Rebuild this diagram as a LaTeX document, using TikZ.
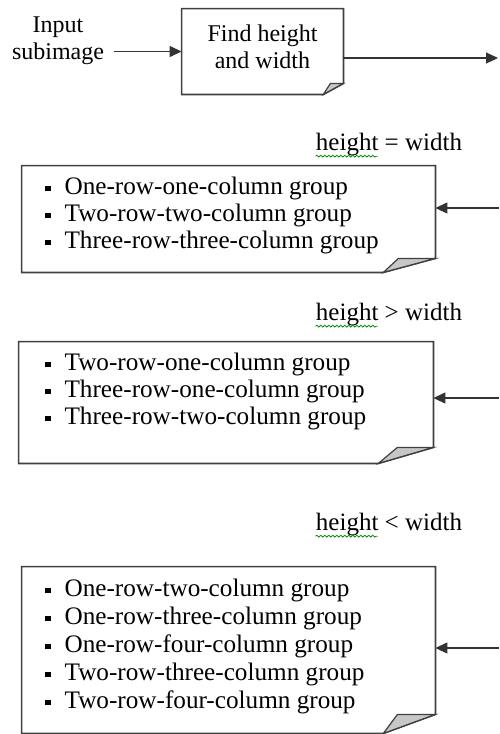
\documentclass[tikz,border=0pt]{standalone}
\usepackage{fontspec}
\setmainfont{Liberation Serif}
\usetikzlibrary{arrows.meta,decorations.pathmorphing}

\newcommand\sqbullet{\raisebox{1.4pt}{\rule{2.8pt}{2.8pt}}\hspace{6.8pt}}
% outline of a note with a curled corner: node, dx, dy, tip
\newcommand\notefold[4]{%
  \draw[noteline] (#1.north west) -- (#1.north east) -- ([yshift=#3]#1.south east)
    -- ([xshift=-#2]#1.south east) -- (#1.south west) -- cycle;
  \filldraw[foldfill] ([xshift=-#2]#1.south east) -- ([xshift=-#4,yshift=#3]#1.south east)
    -- ([yshift=#3]#1.south east) -- cycle;
}
% spell-check line under a word
\newcommand\wavyline[2]{%
  \draw[wavy] ([yshift=0.3pt]#1.south west) -- ++(#2,0);
}

\tikzset{
  notebox/.style={rectangle, draw=none, inner sep=0pt},
  noteline/.style={draw=black!75, line width=0.85pt, line join=miter},
  foldfill/.style={draw=black!75, line width=0.6pt, fill=black!22},
  plaintext/.style={align=center, inner sep=5pt, font=\fontsize{12}{13.5}\selectfont},
  listtext/.style={align=left, inner sep=0pt, anchor=west, font=\fontsize{12.6}{13.5}\selectfont},
  condlabel/.style={inner sep=0pt, font=\fontsize{12.5}{13.5}\selectfont},
  wavy/.style={draw=green!55!black, line width=0.4pt,
    decorate, decoration={snake, segment length=2pt, amplitude=0.45pt}},
  arr/.style={-{Triangle[length=6pt,width=5.5pt]}, draw=black!80, line width=0.6pt}
}

\begin{document}
\begin{tikzpicture}[x=0.5pt, y=-0.5pt]
    \useasboundingbox (0,0) rectangle (499,734);

    % Input and first step
    \node[plaintext] (input) at (58,41) {Input\\subimage};
    \node[notebox, minimum width=80.5pt, minimum height=42.5pt] (find) at (262.5,51.5) {};
    \notefold{find}{10pt}{5.5pt}{6.5pt}
    \node[plaintext, inner sep=0pt] (findtxt) at (262.5,46.5) {Find height\\and width};
    \coordinate (out) at (498,58);

    % Conditions
    \node[condlabel] (cond1) at (389,145) {height = width};
    \node[condlabel] (cond2) at (389,315) {height > width};
    \node[condlabel] (cond3) at (389,525) {height < width};
    \wavyline{cond1}{31pt}
    \wavyline{cond2}{31pt}
    \wavyline{cond3}{31pt}

    % Groups
    \node[notebox, minimum width=206.5pt, minimum height=53pt] (box1) at (228.5,219) {};
    \notefold{box1}{26pt}{7pt}{18.5pt}
    \node[listtext] (list1) at (45,215) {\sqbullet One-row-one-column group\\
      \sqbullet Two-row-two-column group\\
      \sqbullet Three-row-three-column group};

    \node[notebox, minimum width=207pt, minimum height=60.5pt] (box2) at (226,402.5) {};
    \notefold{box2}{27.5pt}{8pt}{18pt}
    \node[listtext] (list2) at (45,391) {\sqbullet Two-row-one-column group\\
      \sqbullet Three-row-one-column group\\
      \sqbullet Three-row-two-column group};

    \node[notebox, minimum width=206.5pt, minimum height=83pt] (box3) at (228.5,650) {};
    \notefold{box3}{26pt}{9.5pt}{19pt}
    \node[listtext, font=\fontsize{12.6}{14}\selectfont] (list3) at (45,646) {\sqbullet One-row-two-column group\\
      \sqbullet One-row-three-column group\\
      \sqbullet One-row-four-column group\\
      \sqbullet Two-row-three-column group\\
      \sqbullet Two-row-four-column group};

    % Arrows
    \coordinate (r1) at (499,208);
    \coordinate (r2) at (499,398);
    \coordinate (r3) at (499,648);
    \draw[arr] (find.west -| input.east) -- (find.west);
    \draw[arr] (out -| find.east) -- (out);
    \draw[arr] (r1) -- (r1 -| box1.east);
    \draw[arr] (r2) -- (r2 -| box2.east);
    \draw[arr] (r3) -- (r3 -| box3.east);
\end{tikzpicture}
\end{document}
